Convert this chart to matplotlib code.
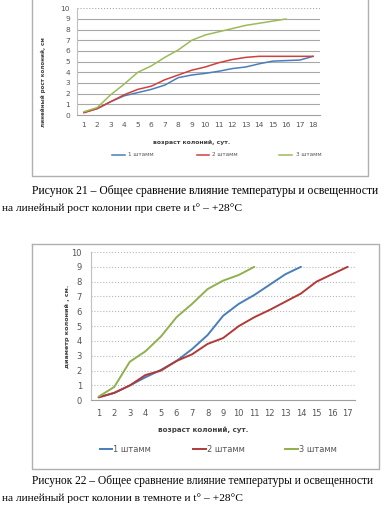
import matplotlib
matplotlib.use("Agg")
import matplotlib.pyplot as plt
from matplotlib.lines import Line2D

W, H = 384, 516

# ---------------- data ----------------
series_names = ["1 штамм", "2 штамм", "3 штамм"]

# Chart 1 (light, +28 C)
days1 = [str(i) for i in range(1, 19)]
c1_s1 = [0.25, 0.6, 1.25, 1.8, 2.1, 2.4, 2.8, 3.5, 3.75, 3.9, 4.1, 4.35, 4.5, 4.8, 5.05, 5.1, 5.15, 5.5]
c1_s2 = [0.2, 0.6, 1.25, 1.9, 2.4, 2.7, 3.3, 3.75, 4.2, 4.5, 4.9, 5.2, 5.4, 5.5, 5.5, 5.5, 5.5, 5.5]
c1_s3 = [0.3, 0.7, 1.9, 2.9, 4.0, 4.6, 5.4, 6.1, 7.0, 7.5, 7.8, 8.1, 8.4, 8.6, 8.8, 9.0]

# Chart 2 (dark, +28 C)
days2 = [str(i) for i in range(1, 18)]
c2_s1 = [0.2, 0.5, 1.0, 1.55, 2.05, 2.65, 3.45, 4.4, 5.7, 6.5, 7.1, 7.8, 8.5, 9.0]
c2_s2 = [0.2, 0.5, 1.0, 1.7, 2.0, 2.65, 3.1, 3.8, 4.2, 5.0, 5.6, 6.1, 6.65, 7.2, 8.0, 8.5, 9.0]
c2_s3 = [0.25, 0.9, 2.6, 3.3, 4.3, 5.6, 6.5, 7.5, 8.07, 8.45, 9.0]

yticks = list(range(0, 11))

xtitle = "возраст колоний, сут."
ylabel1 = "линейный рост колоний, см"
ylabel2 = "диаметр колоний , см."
cap1 = ["Рисунок 21 – Общее сравнение влияние температуры и освещенности",
        "на линейный рост колонии при свете и t° – +28°С"]
cap2 = ["Рисунок 22 – Общее сравнение влияние температуры и освещенности",
        "на линейный рост колонии в темноте и t° – +28°С"]

colors1 = ["#4a7ebb", "#d0403c", "#9bbb59"]
colors2 = ["#4a7ebb", "#b03a38", "#8fb04c"]

# ---------------- figure ----------------
fig = plt.figure(figsize=(W / 100, H / 100), dpi=100)
fig.patch.set_facecolor("white")
renderer = fig.canvas.get_renderer()


def rect(l, t, r, b):
    return [l / W, 1 - b / H, (r - l) / W, (b - t) / H]


def fx(x):
    return x / W


def fy(y):
    return 1 - y / H


def fit_text(x, y, s, target_w, ha="left", rotation=0, **kw):
    t = fig.text(fx(x), fy(y), s, ha=ha, va="center", **kw)
    w = t.get_window_extent(renderer=renderer).width
    t.set_fontsize(t.get_fontsize() * target_w / w)
    t.set_rotation(rotation)
    return t


def chart(ax, days, data, colors, grid_style, grid_color, lw, tickfs, padx, pady):
    x = list(range(len(days)))
    for vals, c in zip(data, colors):
        ax.plot(x[:len(vals)], vals, color=c, lw=lw, solid_capstyle="round")
    ax.set_xlim(-0.5, len(days) - 0.5)
    ax.set_ylim(0, 10)
    ax.set_yticks(yticks)
    ax.set_xticks(x)
    ax.set_xticklabels(days)
    ax.tick_params(axis="both", length=0, labelsize=tickfs, colors="#555555")
    ax.tick_params(axis="y", pad=padx)
    ax.tick_params(axis="x", pad=pady)
    for yv in yticks[1:]:
        ls = ":" if yv == 10 else grid_style
        ax.axhline(yv, color=grid_color, lw=0.8, ls=ls, zorder=0)
    for s in ["top", "right"]:
        ax.spines[s].set_visible(False)
    ax.spines["left"].set_color("#c0c0c0")
    ax.spines["bottom"].set_color("#a0a0a0")
    ax.spines["left"].set_linewidth(0.8)
    ax.spines["bottom"].set_linewidth(0.8)
    ax.set_facecolor("none")


# ---- Chart 1 ----
fig.add_artist(Line2D([fx(32), fx(32), fx(368), fx(368)],
                      [fy(-5), fy(176), fy(176), fy(-5)],
                      color="#b0b0b0", lw=1.0, transform=fig.transFigure))
ax1 = fig.add_axes(rect(77, 8.3, 320, 115))
chart(ax1, days1, [c1_s1, c1_s2, c1_s3], colors1, "-", "#a8a8a8", 1.1, 5.4, 5.0, 5.0)
fit_text(43, 82, ylabel1, 90, ha="center", rotation=90, fontweight="bold",
         color="#404040", fontsize=5)
fit_text(192, 142, xtitle, 77, ha="center", fontweight="bold",
         color="#404040", fontsize=5.2)
for (l1, l2, tx), name, c in zip([(112, 125, 128), (197, 209, 212), (279, 292, 296)],
                                 series_names, colors1):
    fig.add_artist(Line2D([fx(l1), fx(l2)], [fy(155), fy(155)], color=c, lw=1.1,
                          transform=fig.transFigure))
    fit_text(tx, 155, name, 26, color="#555555", fontsize=5)

fit_text(32, 191, cap1[0], 348, family="Liberation Serif", fontsize=9, color="black")
fit_text(2, 208, cap1[1], 243, family="Liberation Serif", fontsize=9, color="black")

# ---- Chart 2 ----
fig.add_artist(Line2D([fx(32), fx(32), fx(379), fx(379), fx(32)],
                      [fy(244), fy(469), fy(469), fy(244), fy(244)],
                      color="#b0b0b0", lw=1.0, transform=fig.transFigure))
ax2 = fig.add_axes(rect(90.9, 252, 355.4, 400.3))
chart(ax2, days2, [c2_s1, c2_s2, c2_s3], colors2, ":", "#b8b8b8", 1.4, 6.0, 6.5, 6.0)
fit_text(67, 326, ylabel2, 85, ha="center", rotation=90, fontweight="bold",
         color="#404040", fontsize=5)
fit_text(203, 430, xtitle, 91, ha="center", fontweight="bold",
         color="#404040", fontsize=5.6)
for (l1, l2, tx), name, c in zip([(100, 112, 113), (193, 206, 207), (285, 298, 299)],
                                 series_names, colors2):
    fig.add_artist(Line2D([fx(l1), fx(l2)], [fy(449), fy(449)], color=c, lw=1.4,
                          transform=fig.transFigure))
    fit_text(tx, 449, name, 38, color="#555555", fontsize=5.3)

fit_text(32, 481, cap2[0], 346, family="Liberation Serif", fontsize=9, color="black")
fit_text(2, 498, cap2[1], 244, family="Liberation Serif", fontsize=9, color="black")

fig.savefig("out.png", dpi=100, facecolor="white")
